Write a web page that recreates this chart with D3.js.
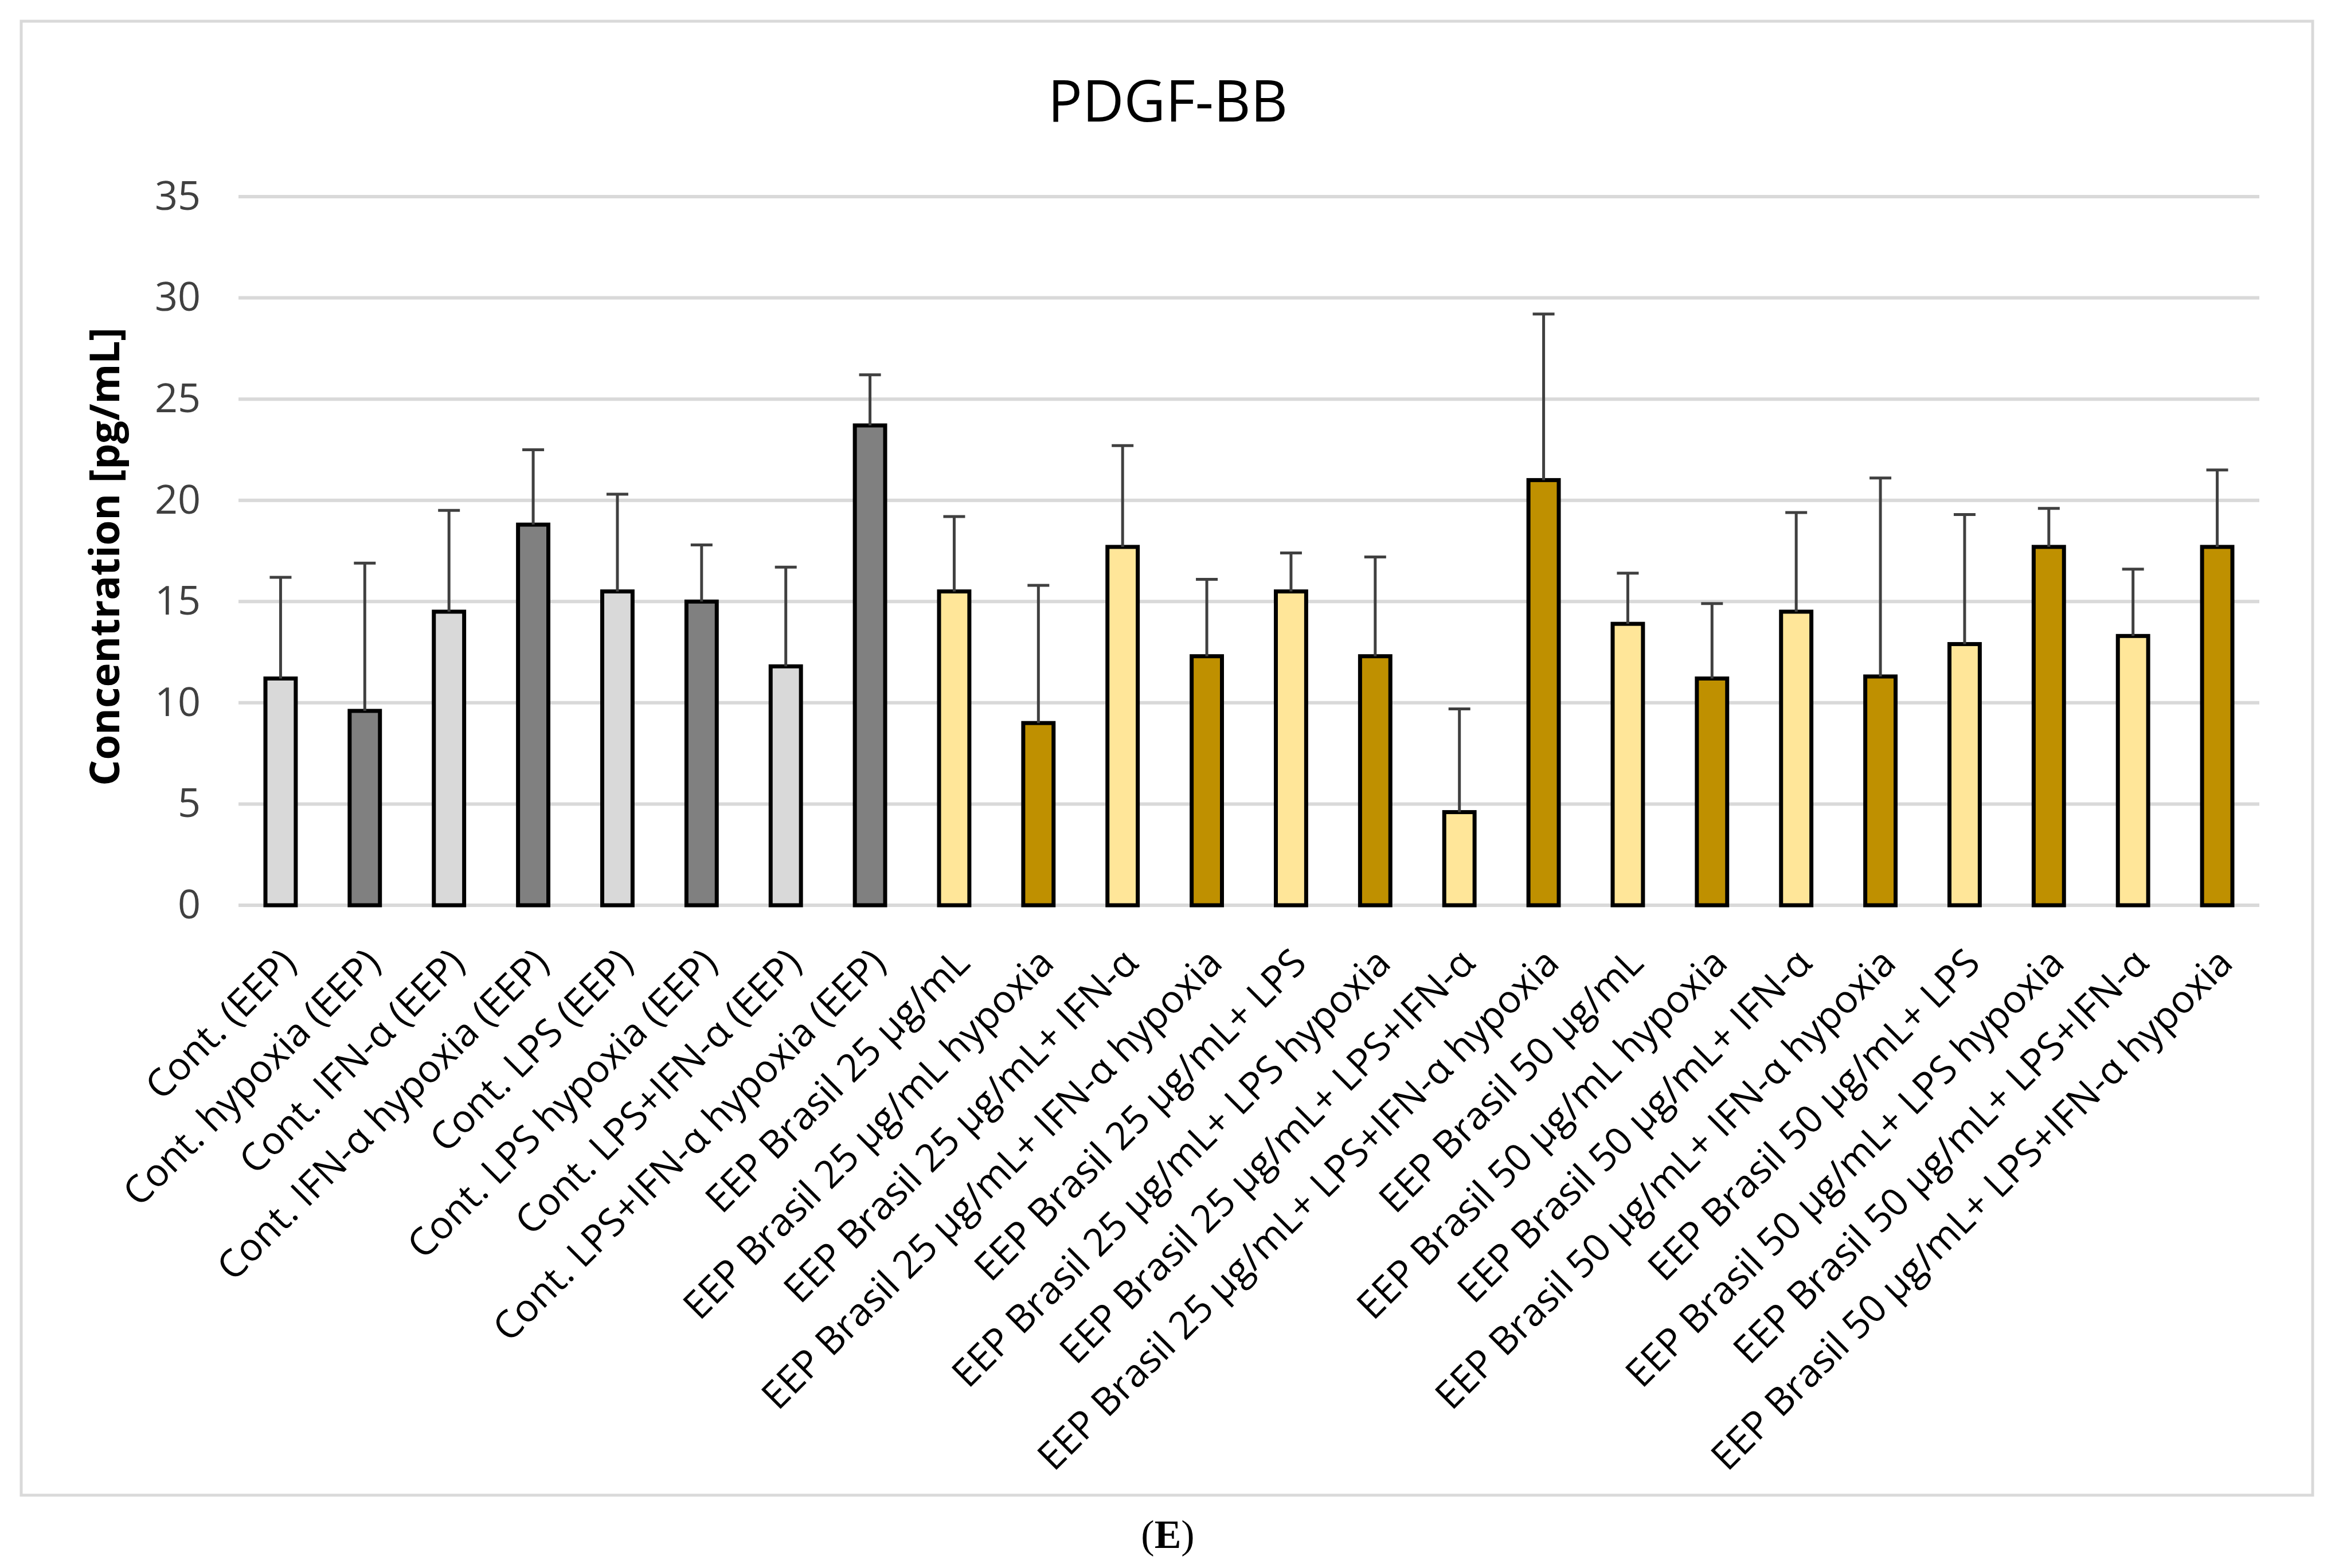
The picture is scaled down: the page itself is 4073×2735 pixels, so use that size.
<!DOCTYPE html>
<html>
<head>
<meta charset="utf-8">
<script src="https://cdn.jsdelivr.net/npm/d3@7"></script>
<style>
  body { margin: 0; background: #fff; }
  #chart { width: 4073px; height: 2735px; }
  text { font-family: "Open Sans", "Segoe UI", sans-serif; }
</style>
</head>
<body>
<div id="chart"></div>
<script>
// Category labels, in plotting order
const categories = [
    'Cont. (EEP)', 'Cont. hypoxia (EEP)', 'Cont. IFN-α (EEP)', 'Cont. IFN-α hypoxia (EEP)',
    'Cont. LPS (EEP)', 'Cont. LPS hypoxia (EEP)', 'Cont. LPS+IFN-α (EEP)', 'Cont. LPS+IFN-α hypoxia (EEP)',
    'EEP Brasil 25 μg/mL', 'EEP Brasil 25 μg/mL hypoxia', 'EEP Brasil 25 μg/mL+ IFN-α',
    'EEP Brasil 25 μg/mL+ IFN-α hypoxia', 'EEP Brasil 25 μg/mL+ LPS', 'EEP Brasil 25 μg/mL+ LPS hypoxia',
    'EEP Brasil 25 μg/mL+ LPS+IFN-α', 'EEP Brasil 25 μg/mL+ LPS+IFN-α hypoxia',
    'EEP Brasil 50 μg/mL', 'EEP Brasil 50 μg/mL hypoxia', 'EEP Brasil 50 μg/mL+ IFN-α',
    'EEP Brasil 50 μg/mL+ IFN-α hypoxia', 'EEP Brasil 50 μg/mL+ LPS', 'EEP Brasil 50 μg/mL+ LPS hypoxia',
    'EEP Brasil 50 μg/mL+ LPS+IFN-α', 'EEP Brasil 50 μg/mL+ LPS+IFN-α hypoxia'
];

// Mean concentration [pg/mL]
const means = [11.2, 9.6, 14.5, 18.8, 15.5, 15.0, 11.8, 23.7,
               15.5, 9.0, 17.7, 12.3, 15.5, 12.3, 4.6, 21.0,
               13.9, 11.2, 14.5, 11.3, 12.9, 17.7, 13.3, 17.7];

// Upper error (SD)
const errors = [5.0, 7.3, 5.0, 3.7, 4.8, 2.8, 4.9, 2.5,
                3.7, 6.8, 5.0, 3.8, 1.9, 4.9, 5.1, 8.2,
                2.5, 3.7, 4.9, 9.8, 6.4, 1.9, 3.3, 3.8];

// Group colour for each bar
const groups = ['ctrl', 'ctrlHyp', 'ctrl', 'ctrlHyp', 'ctrl', 'ctrlHyp', 'ctrl', 'ctrlHyp',
                'eep', 'eepHyp', 'eep', 'eepHyp', 'eep', 'eepHyp', 'eep', 'eepHyp',
                'eep', 'eepHyp', 'eep', 'eepHyp', 'eep', 'eepHyp', 'eep', 'eepHyp'];

const yTicks = [0, 5, 10, 15, 20, 25, 30, 35];

const colors = { ctrl: '#d9d9d9', ctrlHyp: '#808080', eep: '#ffe699', eepHyp: '#bf9000' };

const W = 4073, H = 2735;
const margin = { top: 343, right: 132, bottom: 1156, left: 416 };
const width = W - margin.left - margin.right;
const height = H - margin.top - margin.bottom;

const root = d3.select('#chart').append('svg')
    .attr('width', W)
    .attr('height', H);

// Outer chart border
root.append('rect')
    .attr('x', 37).attr('y', 37)
    .attr('width', 3997).attr('height', 2571)
    .attr('fill', 'none')
    .attr('stroke', '#d9d9d9')
    .attr('stroke-width', 5);

const svg = root.append('g')
    .attr('transform', `translate(${margin.left},${margin.top})`);

const x = d3.scaleBand()
    .domain(categories)
    .range([0, width])
    .paddingInner(0.64)
    .paddingOuter(0.32);

const y = d3.scaleLinear()
    .domain([0, 35])
    .range([height, 0]);

// Gridlines
svg.selectAll('.grid')
    .data(yTicks)
    .enter()
    .append('line')
    .attr('x1', 0).attr('x2', width)
    .attr('y1', d => y(d)).attr('y2', d => y(d))
    .attr('stroke', '#d9d9d9')
    .attr('stroke-width', 6);

// Y axis labels
const yAxis = d3.axisLeft(y).tickValues(yTicks).tickSize(0).tickPadding(66);
const yg = svg.append('g').call(yAxis);
yg.select('.domain').remove();
yg.selectAll('text')
    .attr('font-size', 70)
    .attr('fill', '#404040')
    .style('font-family', '"Open Sans", sans-serif');

// Bars
svg.selectAll('.bar')
    .data(categories)
    .enter()
    .append('rect')
    .attr('x', d => x(d))
    .attr('y', (d, i) => y(means[i]))
    .attr('width', x.bandwidth())
    .attr('height', (d, i) => y(0) - y(means[i]))
    .attr('fill', (d, i) => colors[groups[i]])
    .attr('stroke', '#000')
    .attr('stroke-width', 7);

// Error bars (upper only)
const err = svg.selectAll('.err')
    .data(categories)
    .enter()
    .append('g')
    .attr('stroke', '#404040')
    .attr('stroke-width', 5);

err.append('line')
    .attr('x1', d => x(d) + x.bandwidth() / 2)
    .attr('x2', d => x(d) + x.bandwidth() / 2)
    .attr('y1', (d, i) => y(means[i]))
    .attr('y2', (d, i) => y(means[i] + errors[i]));

err.append('line')
    .attr('x1', d => x(d) + x.bandwidth() / 2 - 19)
    .attr('x2', d => x(d) + x.bandwidth() / 2 + 19)
    .attr('y1', (d, i) => y(means[i] + errors[i]))
    .attr('y2', (d, i) => y(means[i] + errors[i]));

// X category labels, rotated 45°
svg.selectAll('.xlabel')
    .data(categories)
    .enter()
    .append('text')
    .attr('transform', d => `translate(${x(d) + x.bandwidth() / 2 + 14},${height + 88}) rotate(-45)`)
    .attr('text-anchor', 'end')
    .attr('dy', '0.35em')
    .attr('font-size', 67)
    .attr('fill', '#000')
    .text(d => d);

// Title
root.append('text')
    .attr('x', 2037)
    .attr('y', 212)
    .attr('text-anchor', 'middle')
    .attr('font-size', 100)
    .attr('fill', '#000')
    .text('PDGF-BB');

// Y axis title
root.append('text')
    .attr('transform', `translate(208,${margin.top + height / 2 + 10}) rotate(-90)`)
    .attr('text-anchor', 'middle')
    .attr('font-size', 71)
    .attr('font-weight', 'bold')
    .attr('fill', '#000')
    .text('Concentration [pg/mL]');

// Panel caption
const cap = root.append('text')
    .attr('x', 2037)
    .attr('y', 2700)
    .attr('text-anchor', 'middle')
    .attr('font-size', 70)
    .style('font-family', '"Liberation Serif", "Times New Roman", serif');
cap.append('tspan').text('(');
cap.append('tspan').attr('font-weight', 'bold').text('E');
cap.append('tspan').text(')');
</script>
</body>
</html>
